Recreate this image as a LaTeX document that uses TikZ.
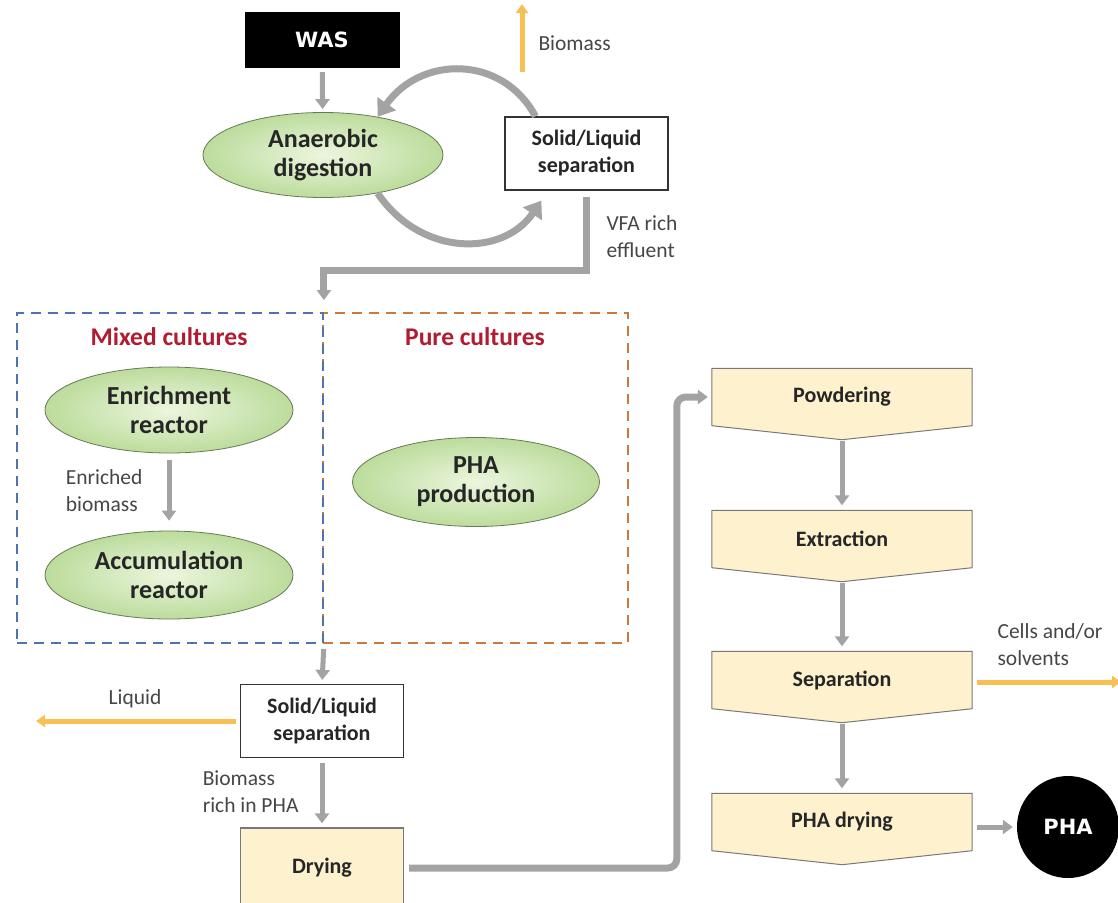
\documentclass[tikz,border=0pt]{standalone}
\usepackage{fontspec}
\setmainfont{Carlito}
\newfontfamily\heavyfont{DejaVu Sans}
\usetikzlibrary{arrows.meta,shapes.geometric,backgrounds}

\definecolor{flowgray}{RGB}{163,163,163}
\definecolor{outflow}{RGB}{248,192,84}
\definecolor{stepfill}{RGB}{254,241,206}
\definecolor{stepedge}{RGB}{120,120,120}
\definecolor{mixblue}{RGB}{78,114,178}
\definecolor{pureorange}{RGB}{202,122,62}
\definecolor{titlered}{RGB}{178,28,48}
\definecolor{greenin}{RGB}{236,246,222}
\definecolor{greenout}{RGB}{188,220,156}
\definecolor{labelgray}{RGB}{70,70,70}

\begin{document}
\begin{tikzpicture}[x=1pt, y=-1pt,
  reactor/.style={ellipse, draw=greenout!55!black, line width=0.8pt, inner color=greenin, outer color=greenout, align=center, font=\bfseries\fontsize{26}{29}\selectfont, text=black!85},
  sepbox/.style={rectangle, draw=black!80, line width=1.2pt, fill=white, align=center, minimum width=163, minimum height=73, font=\bfseries\fontsize{22}{27}\selectfont, text=black!85},
  stepbox/.style={rectangle, minimum width=260, minimum height=57, font=\bfseries\fontsize{22}{26}\selectfont, text=black!85},
  blackbox/.style={fill=black, text=white, font=\heavyfont\bfseries\fontsize{21}{25}\selectfont},
  culture/.style={rectangle, line width=1.8pt, dash pattern=on 10pt off 7pt, minimum width=305, minimum height=330},
  title/.style={font=\bfseries\fontsize{25.5}{28}\selectfont, text=titlered},
  note/.style={font=\fontsize{21.5}{27}\selectfont, text=labelgray, align=left},
  flow/.style={draw=flowgray, line width=5pt, -{Triangle[length=10pt,width=14pt]}},
  loop/.style={draw=flowgray, line width=7pt, -{Triangle[length=16pt,width=22pt]}},
  waste/.style={draw=outflow, line width=5pt, -{Triangle[length=9pt,width=12pt]}}]
  \useasboundingbox (0,0) rectangle (1118,902);

  % digestion loop
  \node[blackbox, minimum width=155, minimum height=56] (was) at (322,40) {WAS};
  \node[reactor, minimum width=240, minimum height=85] (anaer) at (323,155) {Anaerobic\\digestion};
  \node[sepbox] (sep1) at (586.5,153.5) {Solid/Liquid\\separation};
  \coordinate (bioA) at (522,72);
  \coordinate (bioB) at (522,4);
  \node[note, anchor=west] (biolab) at (535,43) {Biomass};
  \node[note, anchor=west] (vfalab) at (603,237) {VFA rich\\effluent};

  % culture boxes
  \node[culture, draw=pureorange] (purebox) at (475.5,478) {};
  \node[culture, draw=mixblue, minimum width=306] (mixbox) at (170,478) {};
  \node[title] (mixtitle) at (169,337) {Mixed cultures};
  \node[title] (puretitle) at (475,337) {Pure cultures};
  \node[reactor, minimum width=248, minimum height=86] (enr) at (169,410) {Enrichment\\reactor};
  \node[reactor, minimum width=248, minimum height=88] (acc) at (169,575) {Accumulation\\reactor};
  \node[reactor, minimum width=247, minimum height=89] (phaprod) at (476,482) {PHA\\production};
  \node[note, anchor=east] (enrlab) at (146,491) {Enriched\\biomass};

  % recovery
  \node[sepbox] (sep2) at (322,721) {Solid/Liquid\\separation};
  \node[sepbox, fill=stepfill, draw=stepedge, minimum height=80] (dry) at (322,868) {Drying};
  \coordinate (liqout) at (36,721);
  \node[note] (liqlab) at (135,699) {Liquid};
  \node[note, anchor=east] (richlab) at (302,792) {Biomass\\rich in PHA};

  \node[stepbox] (powd) at (842,397) {Powdering};
  \node[stepbox] (extr) at (842,539) {Extraction};
  \node[stepbox] (sepa) at (842,680) {Separation};
  \node[stepbox] (phadry) at (842,822) {PHA drying};
  \node[circle, blackbox, minimum size=102] (phaout) at (1068,827) {PHA};
  \coordinate (cellout) at (1121,682);
  \node[note, anchor=west] (celllab) at (994,645) {Cells and/or\\solvents};

  \begin{scope}[on background layer]
    \foreach \s in {powd,extr,sepa,phadry}
      \draw[stepedge, fill=stepfill, line width=1pt] (\s.north west) -- (\s.north east) -- (\s.south east)
        -- ([yshift=-14pt]\s.south) -- (\s.south west) -- cycle;
  \end{scope}

  \draw[flow, shorten <=4pt, shorten >=3pt] (was) -- (anaer);
  \draw[loop] ([xshift=31pt]sep1.north west) .. controls (503,55) and (421,55) .. (anaer.35);
  \draw[loop] (anaer.-35) .. controls (421,257) and (503,257) .. ([xshift=37pt,yshift=-10pt]sep1.south west);
  \draw[waste] (bioA) -- (bioB);
  \draw[flow, line width=7pt, shorten <=6pt] (sep1.south) -- ++(0,80) -| ([yshift=12pt]mixbox.north east);
  \draw[flow, shorten <=7pt, shorten >=10pt] (enr) -- (acc);
  \draw[flow, shorten <=5pt, shorten >=4pt] (mixbox.south east) -- (sep2.north);
  \draw[waste, shorten <=4pt] (sep2.west) -- (liqout);
  \draw[flow, shorten <=5pt, shorten >=4pt] (sep2.south) -- (dry.north);
  \draw[flow, line width=7pt, rounded corners=9pt, shorten <=5pt, shorten >=4pt] (dry.east) -| ([xshift=-35pt]powd.west) -- (powd.west);
  \draw[flow, shorten <=15pt, shorten >=5pt] (powd.south) -- (extr.north);
  \draw[flow, shorten <=15pt, shorten >=5pt] (extr.south) -- (sepa.north);
  \draw[flow, shorten <=15pt, shorten >=5pt] (sepa.south) -- (phadry.north);
  \draw[waste, shorten <=5pt] ([yshift=-2pt]sepa.east) -- (cellout);
  \draw[flow, shorten <=5pt, shorten >=4pt] ([yshift=-5pt]phadry.east) -- (phaout);
\end{tikzpicture}
\end{document}
